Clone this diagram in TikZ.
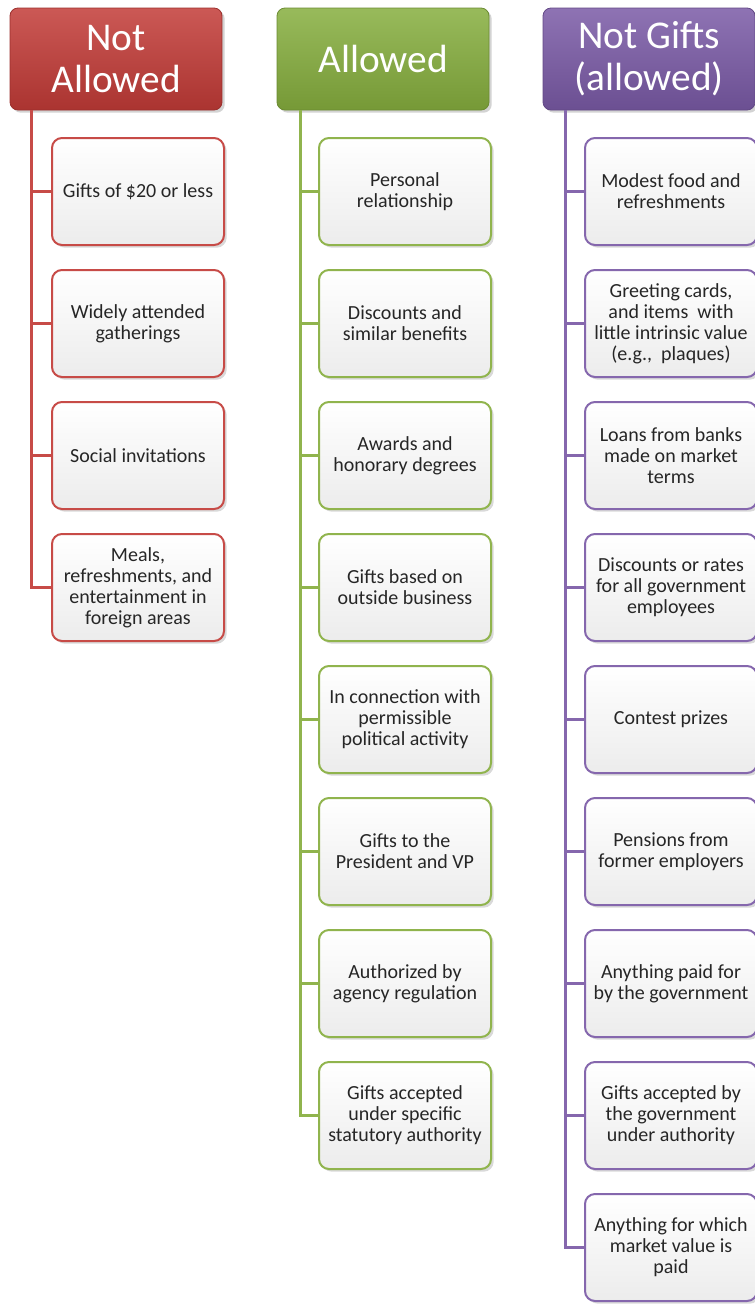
\documentclass[tikz,border=0pt]{standalone}
\usepackage{fontspec}
\setmainfont{Carlito}
\usetikzlibrary{calc,shadows}
\definecolor{notok}{HTML}{C23B37}
\definecolor{okay}{HTML}{86AE3E}
\definecolor{nogift}{HTML}{7A5AA6}
\definecolor{ink}{HTML}{262626}
\definecolor{paper}{HTML}{ECECEC}

\begin{document}
\begin{tikzpicture}[
  x=0.75pt,y=-0.75pt,
  font=\fontsize{15}{15.75}\selectfont,
  text=ink,
  header/.style={draw=#1!80!black, line width=0.6pt, rounded corners=6pt,
    top color=#1!85!white, bottom color=#1!88!black, text=white,
    align=center, minimum width=159pt, minimum height=76.5pt, inner sep=2pt,
    font=\fontsize{29.5}{31.5}\selectfont,
    drop shadow={opacity=0.35, shadow xshift=2pt, shadow yshift=-2pt}},
  item/.style={draw=#1!92!white, line width=1.5pt, rounded corners=7.5pt,
    top color=white, bottom color=paper, align=center,
    minimum width=129pt, minimum height=80.25pt, inner sep=2pt,
    drop shadow={opacity=0.3, shadow xshift=2pt, shadow yshift=-2pt}},
  link/.style={draw=#1!92!white, line width=2.8pt}
]
\useasboundingbox (0,0) rectangle (755,1304);

% Column 1: not allowed
\node[header=notok] (notok) at (116,59) {Not\\Allowed};
\coordinate (notoktrunk) at ($(notok.south west)+(22,0)$);
\node[item=notok] (notok1) at (138,191.5) {Gifts of \$20 or less};
\node[item=notok] (notok2) at (138,323.5) {Widely attended\\gatherings};
\node[item=notok] (notok3) at (138,455.5) {Social invitations};
\node[item=notok] (notok4) at (138,587.5) {Meals,\\refreshments, and\\entertainment in\\foreign areas};

\draw[link=notok] (notoktrunk) |- (notok1.west);
\draw[link=notok] (notoktrunk) |- (notok2.west);
\draw[link=notok] (notoktrunk) |- (notok3.west);
\draw[link=notok] (notoktrunk) |- (notok4.west);

% Column 2: allowed
\node[header=okay] (okay) at (383,59) {Allowed};
\coordinate (okaytrunk) at ($(okay.south west)+(24,0)$);
\node[item=okay] (okay1) at (405,191.5) {Personal\\relationship};
\node[item=okay] (okay2) at (405,323.5) {Discounts and\\similar benefits};
\node[item=okay] (okay3) at (405,455.5) {Awards and\\honorary degrees};
\node[item=okay] (okay4) at (405,587.5) {Gifts based on\\outside business};
\node[item=okay] (okay5) at (405,719.5) {In connection with\\permissible\\political activity};
\node[item=okay] (okay6) at (405,851.5) {Gifts to the\\President and VP};
\node[item=okay] (okay7) at (405,983.5) {Authorized by\\agency regulation};
\node[item=okay] (okay8) at (405,1115.5) {Gifts accepted\\under specific\\statutory authority};

\draw[link=okay] (okaytrunk) |- (okay1.west);
\draw[link=okay] (okaytrunk) |- (okay2.west);
\draw[link=okay] (okaytrunk) |- (okay3.west);
\draw[link=okay] (okaytrunk) |- (okay4.west);
\draw[link=okay] (okaytrunk) |- (okay5.west);
\draw[link=okay] (okaytrunk) |- (okay6.west);
\draw[link=okay] (okaytrunk) |- (okay7.west);
\draw[link=okay] (okaytrunk) |- (okay8.west);

% Column 3: not gifts
\node[header=nogift] (nogift) at (649,59) {Not Gifts\\(allowed)};
\coordinate (nogifttrunk) at ($(nogift.south west)+(23,0)$);
\node[item=nogift] (nogift1) at (671,191.5) {Modest food and\\refreshments};
\node[item=nogift] (nogift2) at (671,323.5) {Greeting cards,\\and items~ with\\little intrinsic value\\(e.g.,~ plaques)};
\node[item=nogift] (nogift3) at (671,455.5) {Loans from banks\\made on market\\terms};
\node[item=nogift] (nogift4) at (671,587.5) {Discounts or rates\\for all government\\employees};
\node[item=nogift] (nogift5) at (671,719.5) {Contest prizes};
\node[item=nogift] (nogift6) at (671,851.5) {Pensions from\\former employers};
\node[item=nogift] (nogift7) at (671,983.5) {Anything paid for\\by the government};
\node[item=nogift] (nogift8) at (671,1115.5) {Gifts accepted by\\the government\\under authority};
\node[item=nogift] (nogift9) at (671,1247.5) {Anything for which\\market value is\\paid};

\draw[link=nogift] (nogifttrunk) |- (nogift1.west);
\draw[link=nogift] (nogifttrunk) |- (nogift2.west);
\draw[link=nogift] (nogifttrunk) |- (nogift3.west);
\draw[link=nogift] (nogifttrunk) |- (nogift4.west);
\draw[link=nogift] (nogifttrunk) |- (nogift5.west);
\draw[link=nogift] (nogifttrunk) |- (nogift6.west);
\draw[link=nogift] (nogifttrunk) |- (nogift7.west);
\draw[link=nogift] (nogifttrunk) |- (nogift8.west);
\draw[link=nogift] (nogifttrunk) |- (nogift9.west);

\end{tikzpicture}
\end{document}
